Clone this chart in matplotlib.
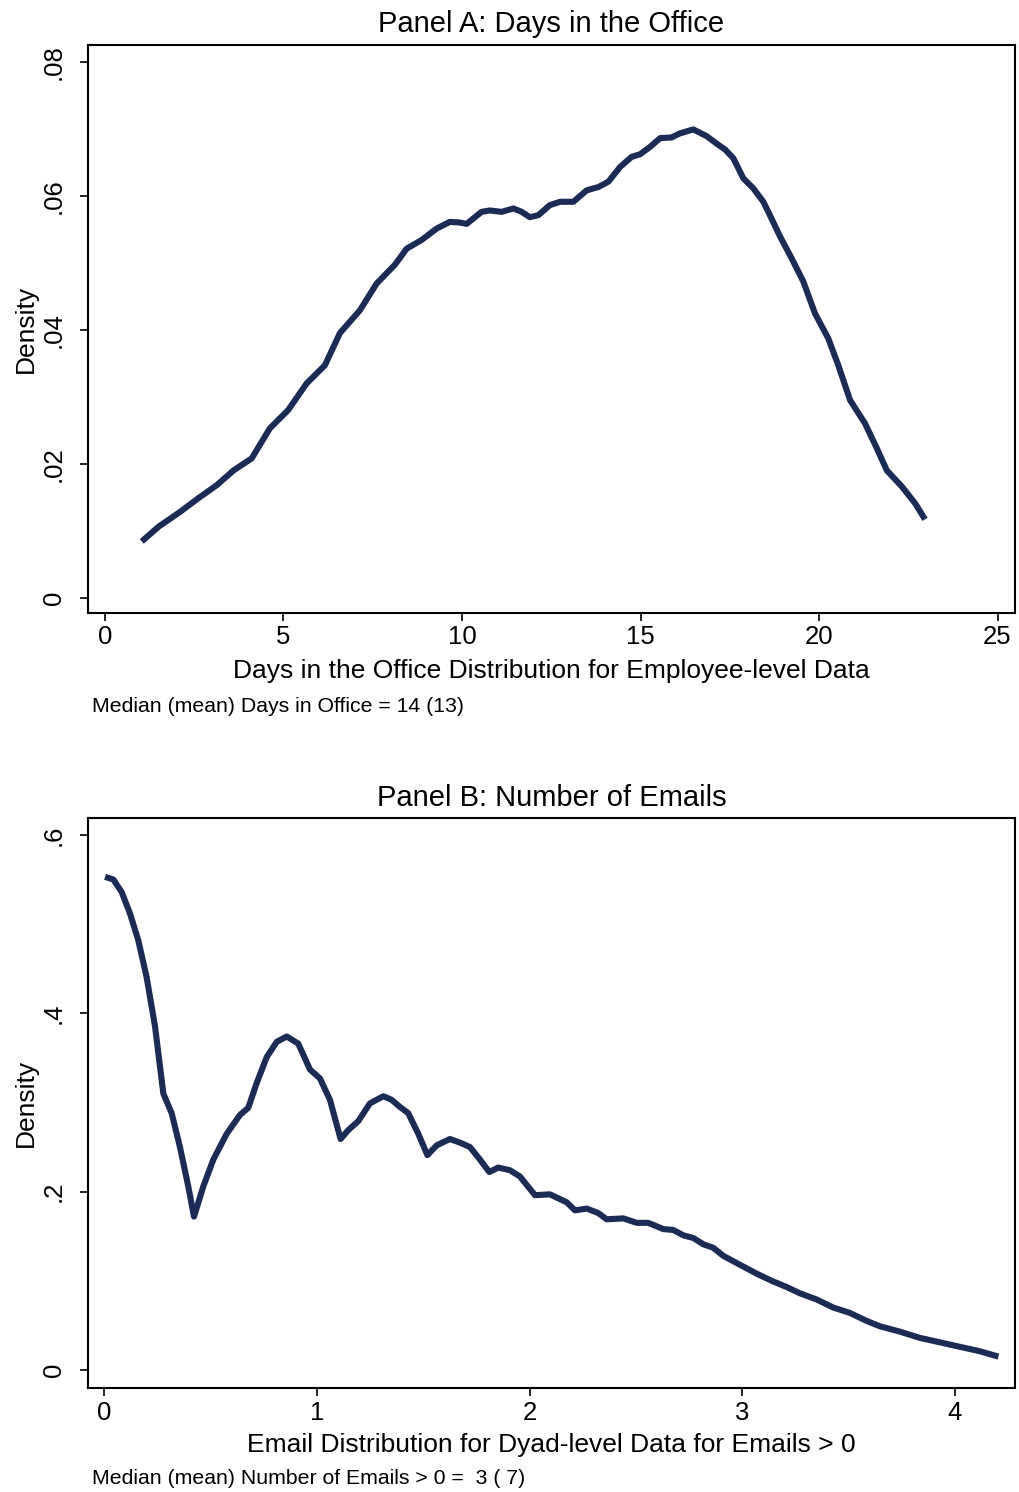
import matplotlib
matplotlib.use("Agg")
import matplotlib.pyplot as plt

plt.rcParams['font.family'] = ['Liberation Sans', 'DejaVu Sans']

# kernel density, days in office (employee level)
days_x = [1.03, 1.5, 2.1, 2.6, 3.13, 3.6, 4.11, 4.62, 5.13, 5.65, 6.16, 6.58, 7.14,
          7.61, 8.12, 8.45, 8.87, 9.29, 9.66, 9.94, 10.13, 10.55, 10.78, 11.11, 11.44,
          11.67, 11.9, 12.14, 12.46, 12.75, 13.12, 13.49, 13.82, 14.1, 14.43, 14.75,
          14.99, 15.27, 15.55, 15.87, 16.1, 16.48, 16.85, 17.18, 17.37, 17.6, 17.88,
          18.16, 18.44, 18.67, 18.91, 19.23, 19.56, 19.89, 20.26, 20.54, 20.87, 21.29,
          21.62, 21.9, 22.32, 22.69, 22.97]
days_y = [0.0084, 0.0106, 0.0128, 0.0148, 0.0168, 0.0190, 0.0208, 0.0253, 0.0280,
          0.0320, 0.0347, 0.0395, 0.0429, 0.0469, 0.0497, 0.0521, 0.0534, 0.0551,
          0.0561, 0.0560, 0.0558, 0.0576, 0.0578, 0.0576, 0.0581, 0.0576, 0.0568,
          0.0571, 0.0586, 0.0591, 0.0591, 0.0608, 0.0613, 0.0621, 0.0643, 0.0658,
          0.0662, 0.0673, 0.0686, 0.0687, 0.0693, 0.0699, 0.0689, 0.0676, 0.0669,
          0.0656, 0.0626, 0.0611, 0.0591, 0.0566, 0.0539, 0.0507, 0.0472, 0.0424,
          0.0387, 0.0347, 0.0295, 0.0260, 0.0223, 0.0190, 0.0166, 0.0141, 0.0117]

# kernel density, log emails per dyad (emails > 0)
email_x = [0.005, 0.044, 0.083, 0.122, 0.161, 0.2, 0.24, 0.279, 0.318, 0.357, 0.396,
           0.423, 0.467, 0.514, 0.577, 0.639, 0.678, 0.718, 0.765, 0.812, 0.859, 0.913,
           0.968, 1.015, 1.062, 1.112, 1.148, 1.195, 1.25, 1.313, 1.352, 1.391, 1.43,
           1.477, 1.52, 1.564, 1.626, 1.673, 1.72, 1.767, 1.811, 1.853, 1.908, 1.955,
           2.026, 2.096, 2.175, 2.214, 2.269, 2.323, 2.363, 2.441, 2.504, 2.558, 2.629,
           2.676, 2.723, 2.77, 2.817, 2.864, 2.911, 2.989, 3.068, 3.138, 3.209, 3.271,
           3.35, 3.428, 3.506, 3.585, 3.647, 3.741, 3.835, 3.929, 4.023, 4.117, 4.204]
email_y = [0.553, 0.550, 0.536, 0.512, 0.482, 0.441, 0.385, 0.310, 0.288, 0.250, 0.206,
           0.172, 0.206, 0.236, 0.265, 0.286, 0.294, 0.322, 0.351, 0.368, 0.374, 0.366,
           0.337, 0.327, 0.303, 0.259, 0.269, 0.279, 0.299, 0.307, 0.303, 0.295, 0.288,
           0.265, 0.241, 0.252, 0.259, 0.255, 0.250, 0.236, 0.222, 0.227, 0.224, 0.217,
           0.196, 0.197, 0.188, 0.179, 0.181, 0.176, 0.169, 0.170, 0.165, 0.165, 0.158,
           0.157, 0.151, 0.148, 0.141, 0.137, 0.128, 0.118, 0.108, 0.100, 0.093, 0.086,
           0.079, 0.070, 0.064, 0.055, 0.049, 0.043, 0.036, 0.031, 0.026, 0.021, 0.015]

days_xticks = [0, 5, 10, 15, 20, 25]
days_yticks = [0, 0.02, 0.04, 0.06, 0.08]
days_ylabels = ['0', '.02', '.04', '.06', '.08']
email_xticks = [0, 1, 2, 3, 4]
email_yticks = [0, 0.2, 0.4, 0.6]
email_ylabels = ['0', '.2', '.4', '.6']

navy = '#1c2b55'

fig = plt.figure(figsize=(10.19, 14.92), dpi=100)
W, H = 1019, 1492


def make_axes(top, bottom, left=88, right=1015):
    return fig.add_axes([left / W, 1 - bottom / H, (right - left) / W, (bottom - top) / H])


def style(ax):
    for s in ax.spines.values():
        s.set_linewidth(1.5)
        s.set_color('black')
    ax.tick_params(axis='both', direction='out', length=6, width=1.2, labelsize=18.5, colors='black')
    ax.tick_params(axis='x', pad=3)
    ax.tick_params(axis='y', pad=10)
    for lab in ax.get_yticklabels():
        lab.set_rotation(90)
        lab.set_va('center')


# Panel A
ax1 = make_axes(45, 613)
ax1.plot(days_x, days_y, color=navy, lw=4.4, solid_joinstyle='round', solid_capstyle='butt')
ax1.set_xlim(-0.476, 25.49)
ax1.set_ylim(-0.00228, 0.0825)
ax1.set_xticks(days_xticks)
ax1.set_yticks(days_yticks)
ax1.set_yticklabels(days_ylabels)
style(ax1)
ax1.set_title('Panel A: Days in the Office', fontsize=21, pad=9)
ax1.set_xlabel('Days in the Office Distribution for Employee-level Data', fontsize=19, labelpad=6.5)
ax1.set_ylabel('Density', fontsize=19, labelpad=3)
fig.text(92 / W, 1 - 707 / H, 'Median (mean) Days in Office = 14 (13)', fontsize=15.3,
         ha='left', va='center')

# Panel B
ax2 = make_axes(818, 1388)
ax2.plot(email_x, email_y, color=navy, lw=4.4, solid_joinstyle='round', solid_capstyle='butt')
ax2.set_xlim(-0.0752, 4.282)
ax2.set_ylim(-0.0202, 0.619)
ax2.set_xticks(email_xticks)
ax2.set_yticks(email_yticks)
ax2.set_yticklabels(email_ylabels)
style(ax2)
ax2.set_title('Panel B: Number of Emails', fontsize=21, pad=9)
ax2.set_xlabel('Email Distribution for Dyad-level Data for Emails > 0', fontsize=19, labelpad=6)
ax2.set_ylabel('Density', fontsize=19, labelpad=3)
fig.text(92 / W, 1 - 1479 / H, 'Median (mean) Number of Emails > 0 =  3 ( 7)', fontsize=15.3,
         ha='left', va='center')

fig.savefig('out.png', dpi=100)
